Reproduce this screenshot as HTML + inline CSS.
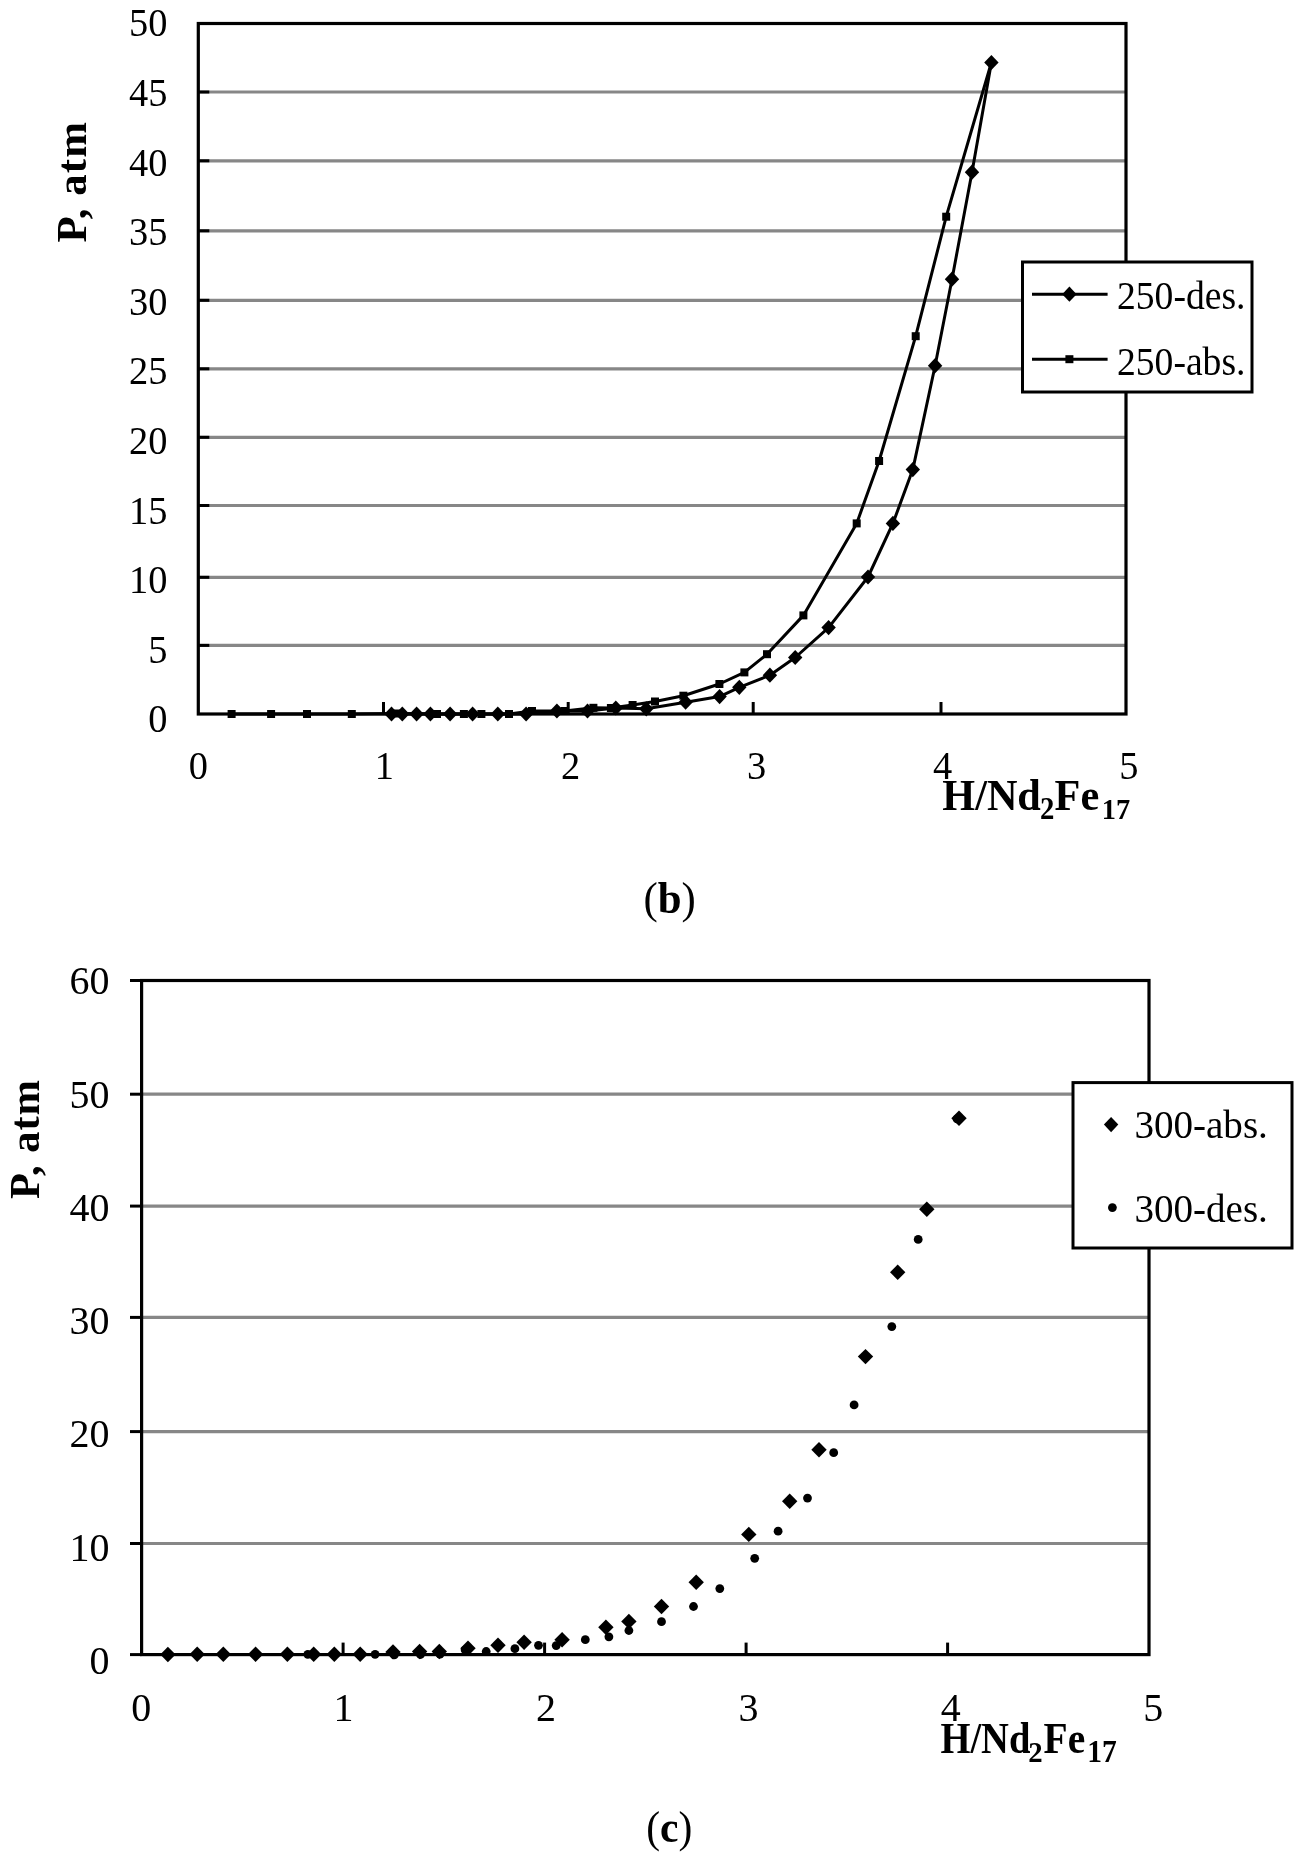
<!DOCTYPE html>
<html><head><meta charset="utf-8"><style>
html,body{margin:0;padding:0;background:#fff;width:1305px;height:1861px;overflow:hidden}
svg{display:block;filter:grayscale(1)}
text{font-family:"Liberation Serif", serif;fill:#000}
</style></head><body>
<svg width="1305" height="1861" viewBox="0 0 1305 1861">
<rect width="1305" height="1861" fill="#fff"/>
<g stroke="#878787" stroke-width="3.2" fill="none">
<line x1="198.3" y1="92.0" x2="1126.0" y2="92.0"/>
<line x1="198.3" y1="160.8" x2="1126.0" y2="160.8"/>
<line x1="198.3" y1="230.8" x2="1126.0" y2="230.8"/>
<line x1="198.3" y1="300.3" x2="1126.0" y2="300.3"/>
<line x1="198.3" y1="368.8" x2="1126.0" y2="368.8"/>
<line x1="198.3" y1="437.3" x2="1126.0" y2="437.3"/>
<line x1="198.3" y1="505.5" x2="1126.0" y2="505.5"/>
<line x1="198.3" y1="577.3" x2="1126.0" y2="577.3"/>
<line x1="198.3" y1="645.4" x2="1126.0" y2="645.4"/>
</g>
<g stroke="#000" stroke-width="3" fill="none">
<line x1="198.3" y1="92.0" x2="209.3" y2="92.0"/>
<line x1="198.3" y1="160.8" x2="209.3" y2="160.8"/>
<line x1="198.3" y1="230.8" x2="209.3" y2="230.8"/>
<line x1="198.3" y1="300.3" x2="209.3" y2="300.3"/>
<line x1="198.3" y1="368.8" x2="209.3" y2="368.8"/>
<line x1="198.3" y1="437.3" x2="209.3" y2="437.3"/>
<line x1="198.3" y1="505.5" x2="209.3" y2="505.5"/>
<line x1="198.3" y1="577.3" x2="209.3" y2="577.3"/>
<line x1="198.3" y1="645.4" x2="209.3" y2="645.4"/>
<line x1="383.5" y1="714.0" x2="383.5" y2="702.0"/>
<line x1="568.2" y1="714.0" x2="568.2" y2="702.0"/>
<line x1="753.2" y1="714.0" x2="753.2" y2="702.0"/>
<line x1="941.0" y1="714.0" x2="941.0" y2="702.0"/>
</g>
<rect x="198.3" y="23.5" width="927.7" height="690.5" fill="none" stroke="#000" stroke-width="3.2"/>
<polyline points="231.6,714 271.1,714 307,714 351.8,714 397.5,713.5 437,714 463.9,714 481.4,714 509,714 532,711 564.5,711 593.4,707.8 610.9,708 632.6,705 655,701.5 683.4,695.7 719.4,684 744.4,672.4 767,654.2 803.4,615.4 856.7,523.4 879.1,461 915.7,336.2 946.2,216.7 991.4,62.5" fill="none" stroke="#000" stroke-width="3" stroke-linejoin="round"/>
<polyline points="391.5,714 402.3,714 416.6,714 430.4,714 450.1,714 472.6,714 497.8,714 526.1,714 556.9,711 587.5,711 615.8,708 646.3,708.8 685.6,702.2 719.6,696.6 739.3,687.3 769.9,675.2 795.2,657.5 828.6,627.6 868,577 892.9,523.4 912.8,469.6 935.1,365.7 952,279.2 972,172.2 991.4,62.5" fill="none" stroke="#000" stroke-width="3" stroke-linejoin="round"/>
<g fill="#000">
<rect x="227.6" y="710.0" width="8" height="8"/>
<rect x="267.1" y="710.0" width="8" height="8"/>
<rect x="303.0" y="710.0" width="8" height="8"/>
<rect x="347.8" y="710.0" width="8" height="8"/>
<rect x="393.5" y="709.5" width="8" height="8"/>
<rect x="433.0" y="710.0" width="8" height="8"/>
<rect x="459.9" y="710.0" width="8" height="8"/>
<rect x="477.4" y="710.0" width="8" height="8"/>
<rect x="505.0" y="710.0" width="8" height="8"/>
<rect x="528.0" y="707.0" width="8" height="8"/>
<rect x="560.5" y="707.0" width="8" height="8"/>
<rect x="589.4" y="703.8" width="8" height="8"/>
<rect x="606.9" y="704.0" width="8" height="8"/>
<rect x="628.6" y="701.0" width="8" height="8"/>
<rect x="651.0" y="697.5" width="8" height="8"/>
<rect x="679.4" y="691.7" width="8" height="8"/>
<rect x="715.4" y="680.0" width="8" height="8"/>
<rect x="740.4" y="668.4" width="8" height="8"/>
<rect x="763.0" y="650.2" width="8" height="8"/>
<rect x="799.4" y="611.4" width="8" height="8"/>
<rect x="852.7" y="519.4" width="8" height="8"/>
<rect x="875.1" y="457.0" width="8" height="8"/>
<rect x="911.7" y="332.2" width="8" height="8"/>
<rect x="942.2" y="212.7" width="8" height="8"/>
<path d="M391.5 706.4L398.7 714.0L391.5 721.6L384.3 714.0Z"/>
<path d="M402.3 706.4L409.5 714.0L402.3 721.6L395.1 714.0Z"/>
<path d="M416.6 706.4L423.8 714.0L416.6 721.6L409.4 714.0Z"/>
<path d="M430.4 706.4L437.6 714.0L430.4 721.6L423.2 714.0Z"/>
<path d="M450.1 706.4L457.3 714.0L450.1 721.6L442.9 714.0Z"/>
<path d="M472.6 706.4L479.8 714.0L472.6 721.6L465.4 714.0Z"/>
<path d="M497.8 706.4L505.0 714.0L497.8 721.6L490.6 714.0Z"/>
<path d="M526.1 706.4L533.3 714.0L526.1 721.6L518.9 714.0Z"/>
<path d="M556.9 703.4L564.1 711.0L556.9 718.6L549.7 711.0Z"/>
<path d="M587.5 703.4L594.7 711.0L587.5 718.6L580.3 711.0Z"/>
<path d="M615.8 700.4L623.0 708.0L615.8 715.6L608.6 708.0Z"/>
<path d="M646.3 701.2L653.5 708.8L646.3 716.4L639.1 708.8Z"/>
<path d="M685.6 694.6L692.8 702.2L685.6 709.8L678.4 702.2Z"/>
<path d="M719.6 689.0L726.8 696.6L719.6 704.2L712.4 696.6Z"/>
<path d="M739.3 679.7L746.5 687.3L739.3 694.9L732.1 687.3Z"/>
<path d="M769.9 667.6L777.1 675.2L769.9 682.8L762.7 675.2Z"/>
<path d="M795.2 649.9L802.4 657.5L795.2 665.1L788.0 657.5Z"/>
<path d="M828.6 620.0L835.8 627.6L828.6 635.2L821.4 627.6Z"/>
<path d="M868.0 569.4L875.2 577.0L868.0 584.6L860.8 577.0Z"/>
<path d="M892.9 515.8L900.1 523.4L892.9 531.0L885.7 523.4Z"/>
<path d="M912.8 462.0L920.0 469.6L912.8 477.2L905.6 469.6Z"/>
<path d="M935.1 358.1L942.3 365.7L935.1 373.3L927.9 365.7Z"/>
<path d="M952.0 271.6L959.2 279.2L952.0 286.8L944.8 279.2Z"/>
<path d="M972.0 164.6L979.2 172.2L972.0 179.8L964.8 172.2Z"/>
<path d="M991.4 54.9L998.6 62.5L991.4 70.1L984.2 62.5Z"/>
</g>
<g font-size="40" text-anchor="end">
<text transform="translate(167.4,36.4) scale(0.96,1.02)">50</text>
<text transform="translate(167.4,106.0) scale(0.96,1.02)">45</text>
<text transform="translate(167.4,175.6) scale(0.96,1.02)">40</text>
<text transform="translate(167.4,245.2) scale(0.96,1.02)">35</text>
<text transform="translate(167.4,314.8) scale(0.96,1.02)">30</text>
<text transform="translate(167.4,384.4) scale(0.96,1.02)">25</text>
<text transform="translate(167.4,454.0) scale(0.96,1.02)">20</text>
<text transform="translate(167.4,523.6) scale(0.96,1.02)">15</text>
<text transform="translate(167.4,593.2) scale(0.96,1.02)">10</text>
<text transform="translate(167.4,662.8) scale(0.96,1.02)">5</text>
<text transform="translate(167.4,732.4) scale(0.96,1.02)">0</text>
</g>
<g font-size="40" text-anchor="middle">
<text transform="translate(198.3,779) scale(0.96,1.02)">0</text>
<text transform="translate(384.4,779) scale(0.96,1.02)">1</text>
<text transform="translate(570.5,779) scale(0.96,1.02)">2</text>
<text transform="translate(756.6,779) scale(0.96,1.02)">3</text>
<text transform="translate(942.7,779) scale(0.96,1.02)">4</text>
<text transform="translate(1128.8,779) scale(0.96,1.02)">5</text>
</g>
<text transform="translate(86,242.5) rotate(-90)" font-size="43" font-weight="bold" letter-spacing="1">P, atm</text>
<text transform="translate(942.30,809.80) scale(0.949,1)" font-size="44.5" font-weight="bold">H/Nd</text>
<text transform="translate(1039.90,818.80) scale(0.933,1)" font-size="30.8" font-weight="bold">2</text>
<text transform="translate(1054.60,809.80) scale(0.951,1)" font-size="44.5" font-weight="bold">Fe</text>
<text transform="translate(1101.80,818.80) scale(0.940,1)" font-size="30.2" font-weight="bold">17</text>
<rect x="1022.5" y="262" width="229.5" height="130" fill="#fff" stroke="#000" stroke-width="3"/>
<g stroke="#000" stroke-width="3"><line x1="1032" y1="294.2" x2="1107.6" y2="294.2"/><line x1="1032" y1="359.2" x2="1107.6" y2="359.2"/></g>
<path d="M1069.4 286.6L1076.6 294.2L1069.4 301.8L1062.2 294.2Z"/>
<rect x="1065.4" y="355.2" width="8" height="8"/>
<g font-size="39.5"><text transform="translate(1117,308.8) scale(0.952,1)">250-des.</text><text transform="translate(1117,374.5) scale(0.952,1)">250-abs.</text></g>
<text transform="translate(643.5,913.3) scale(0.985,1)" font-size="43.5">(<tspan font-weight="bold">b</tspan>)</text>
<g stroke="#878787" stroke-width="3.2" fill="none">
<line x1="141.6" y1="1094.2" x2="1149.0" y2="1094.2"/>
<line x1="141.6" y1="1206.1" x2="1149.0" y2="1206.1"/>
<line x1="141.6" y1="1317.4" x2="1149.0" y2="1317.4"/>
<line x1="141.6" y1="1431.6" x2="1149.0" y2="1431.6"/>
<line x1="141.6" y1="1543.5" x2="1149.0" y2="1543.5"/>
</g>
<g stroke="#000" stroke-width="3" fill="none">
<line x1="130" y1="980.5" x2="141.6" y2="980.5"/>
<line x1="130" y1="1094.2" x2="141.6" y2="1094.2"/>
<line x1="130" y1="1206.1" x2="141.6" y2="1206.1"/>
<line x1="130" y1="1317.4" x2="141.6" y2="1317.4"/>
<line x1="130" y1="1431.6" x2="141.6" y2="1431.6"/>
<line x1="130" y1="1543.5" x2="141.6" y2="1543.5"/>
<line x1="130" y1="1654.6" x2="141.6" y2="1654.6"/>
<line x1="343.1" y1="1654.6" x2="343.1" y2="1642.6"/>
<line x1="544.6" y1="1654.6" x2="544.6" y2="1642.6"/>
<line x1="746.1" y1="1654.6" x2="746.1" y2="1642.6"/>
<line x1="947.6" y1="1654.6" x2="947.6" y2="1642.6"/>
</g>
<rect x="141.6" y="980.5" width="1007.4" height="674.0999999999999" fill="none" stroke="#000" stroke-width="3.2"/>
<g fill="#000">
<circle cx="307.8" cy="1654.3" r="4.4"/>
<circle cx="420.5" cy="1654.5" r="4.4"/>
<circle cx="440.0" cy="1654.2" r="4.4"/>
<circle cx="375.1" cy="1654.3" r="4.4"/>
<circle cx="394.3" cy="1654.9" r="4.4"/>
<circle cx="465.1" cy="1649.8" r="4.4"/>
<circle cx="486.2" cy="1651.5" r="4.4"/>
<circle cx="514.9" cy="1648.7" r="4.4"/>
<circle cx="538.5" cy="1645.3" r="4.4"/>
<circle cx="556.2" cy="1645.6" r="4.4"/>
<circle cx="585.3" cy="1639.7" r="4.4"/>
<circle cx="608.9" cy="1636.8" r="4.4"/>
<circle cx="628.9" cy="1630.5" r="4.4"/>
<circle cx="661.5" cy="1621.7" r="4.4"/>
<circle cx="693.5" cy="1606.5" r="4.4"/>
<circle cx="719.8" cy="1588.6" r="4.4"/>
<circle cx="754.7" cy="1558.3" r="4.4"/>
<circle cx="778.1" cy="1531.2" r="4.4"/>
<circle cx="807.5" cy="1498.1" r="4.4"/>
<circle cx="833.7" cy="1452.7" r="4.4"/>
<circle cx="854.1" cy="1404.9" r="4.4"/>
<circle cx="891.8" cy="1326.6" r="4.4"/>
<circle cx="918.2" cy="1239.4" r="4.4"/>
<circle cx="957.0" cy="1118.8" r="4.4"/>
<path d="M167.9 1646.8L175.6 1654.5L167.9 1662.2L160.2 1654.5Z"/>
<path d="M197.2 1646.6L204.9 1654.3L197.2 1662.0L189.5 1654.3Z"/>
<path d="M223.3 1646.6L231.0 1654.3L223.3 1662.0L215.6 1654.3Z"/>
<path d="M255.6 1646.6L263.3 1654.3L255.6 1662.0L247.9 1654.3Z"/>
<path d="M287.4 1646.6L295.1 1654.3L287.4 1662.0L279.7 1654.3Z"/>
<path d="M313.7 1646.6L321.4 1654.3L313.7 1662.0L306.0 1654.3Z"/>
<path d="M334.3 1646.6L342.0 1654.3L334.3 1662.0L326.6 1654.3Z"/>
<path d="M360.2 1646.6L367.9 1654.3L360.2 1662.0L352.5 1654.3Z"/>
<path d="M393.0 1644.2L400.7 1651.9L393.0 1659.6L385.3 1651.9Z"/>
<path d="M419.6 1643.8L427.3 1651.5L419.6 1659.2L411.9 1651.5Z"/>
<path d="M439.3 1643.8L447.0 1651.5L439.3 1659.2L431.6 1651.5Z"/>
<path d="M468.0 1640.5L475.7 1648.2L468.0 1655.9L460.3 1648.2Z"/>
<path d="M498.0 1637.6L505.7 1645.3L498.0 1653.0L490.3 1645.3Z"/>
<path d="M524.1 1634.6L531.8 1642.3L524.1 1650.0L516.4 1642.3Z"/>
<path d="M562.1 1632.0L569.8 1639.7L562.1 1647.4L554.4 1639.7Z"/>
<path d="M605.9 1619.5L613.6 1627.2L605.9 1634.9L598.2 1627.2Z"/>
<path d="M628.9 1613.7L636.6 1621.4L628.9 1629.1L621.2 1621.4Z"/>
<path d="M661.5 1598.8L669.2 1606.5L661.5 1614.2L653.8 1606.5Z"/>
<path d="M696.2 1574.5L703.9 1582.2L696.2 1589.9L688.5 1582.2Z"/>
<path d="M748.8 1526.7L756.5 1534.4L748.8 1542.1L741.1 1534.4Z"/>
<path d="M789.7 1493.6L797.4 1501.3L789.7 1509.0L782.0 1501.3Z"/>
<path d="M819.0 1442.1L826.7 1449.8L819.0 1457.5L811.3 1449.8Z"/>
<path d="M865.5 1348.9L873.2 1356.6L865.5 1364.3L857.8 1356.6Z"/>
<path d="M897.7 1264.6L905.4 1272.3L897.7 1280.0L890.0 1272.3Z"/>
<path d="M926.8 1201.5L934.5 1209.2L926.8 1216.9L919.1 1209.2Z"/>
<path d="M959.0 1110.6L966.7 1118.3L959.0 1126.0L951.3 1118.3Z"/>
</g>
<g font-size="40" text-anchor="end">
<text transform="translate(109.6,994.40) scale(1,1.02)">60</text>
<text transform="translate(109.6,1107.65) scale(1,1.02)">50</text>
<text transform="translate(109.6,1220.90) scale(1,1.02)">40</text>
<text transform="translate(109.6,1334.15) scale(1,1.02)">30</text>
<text transform="translate(109.6,1447.40) scale(1,1.02)">20</text>
<text transform="translate(109.6,1560.65) scale(1,1.02)">10</text>
<text transform="translate(109.6,1673.90) scale(1,1.02)">0</text>
</g>
<g font-size="40" text-anchor="middle">
<text transform="translate(141.2,1721) scale(1,1.02)">0</text>
<text transform="translate(343.6,1721) scale(1,1.02)">1</text>
<text transform="translate(546.0,1721) scale(1,1.02)">2</text>
<text transform="translate(748.4,1721) scale(1,1.02)">3</text>
<text transform="translate(950.8,1721) scale(1,1.02)">4</text>
<text transform="translate(1153.2,1721) scale(1,1.02)">5</text>
</g>
<text transform="translate(38.7,1199.1) rotate(-90)" font-size="42.5" font-weight="bold" letter-spacing="1">P, atm</text>
<text transform="translate(940.40,1752.80) scale(0.876,1)" font-size="44" font-weight="bold">H/Nd</text>
<text transform="translate(1028.20,1761.80) scale(0.944,1)" font-size="30.5" font-weight="bold">2</text>
<text transform="translate(1043.60,1752.80) scale(0.897,1)" font-size="44" font-weight="bold">Fe</text>
<text transform="translate(1087.20,1761.80) scale(0.953,1)" font-size="31" font-weight="bold">17</text>
<rect x="1073" y="1082.6" width="219" height="165.4" fill="#fff" stroke="#000" stroke-width="3"/>
<g fill="#000"><path d="M1111.1 1117.0L1118.3 1124.6L1111.1 1132.2L1103.9 1124.6Z"/><circle cx="1112.4" cy="1207.6" r="4.4"/></g>
<g font-size="40.5"><text transform="translate(1134.4,1138) scale(0.965,1)">300-abs.</text><text transform="translate(1134.4,1221.7) scale(0.965,1)">300-des.</text></g>
<text transform="translate(646.2,1842.1) scale(0.957,1)" font-size="43.5">(<tspan font-weight="bold">c</tspan>)</text>
</svg></body></html>
